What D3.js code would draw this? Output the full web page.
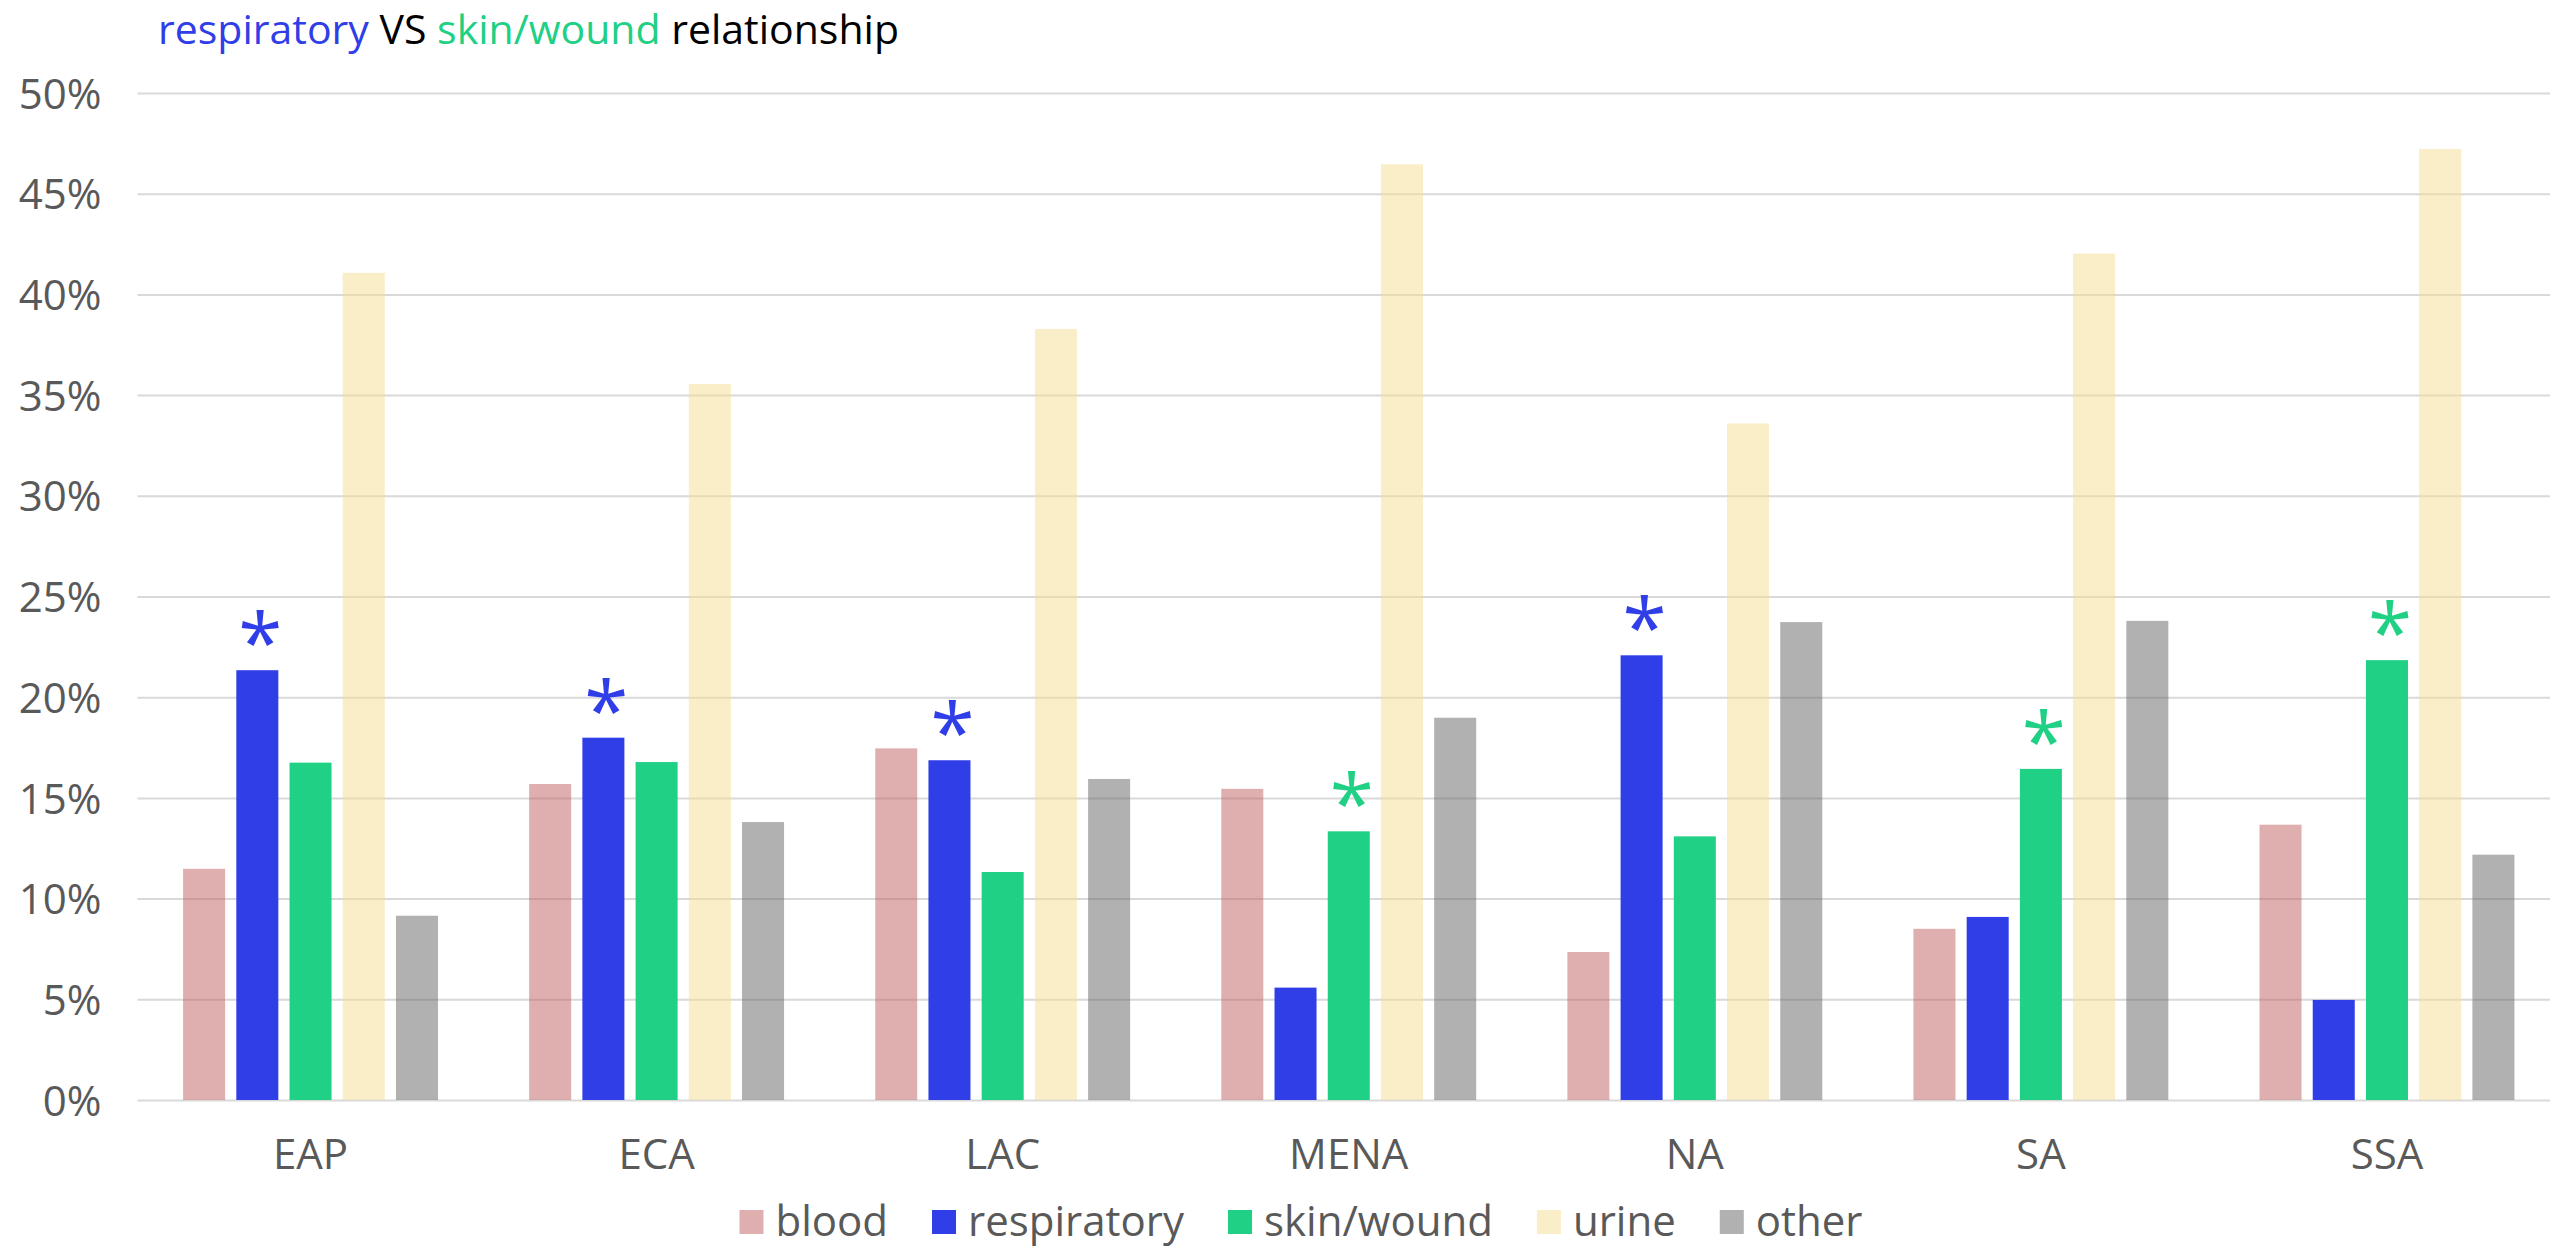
<!DOCTYPE html>
<html>
<head>
<meta charset="utf-8">
<script src="https://cdn.jsdelivr.net/npm/d3@7"></script>
<style>
  body { margin: 0; background: #fff; }
  svg { display: block; }
  text { font-family: "Century Gothic", "Open Sans", sans-serif; }
</style>
</head>
<body>
<svg id="chart" width="2554" height="1252"></svg>
<script>
// Share of isolates by specimen source, per world region
const regions = ["EAP", "ECA", "LAC", "MENA", "NA", "SA", "SSA"];
const sources = ["blood", "respiratory", "skin/wound", "urine", "other"];

const blood       = [0.1148, 0.1569, 0.1746, 0.1545, 0.0735, 0.0850, 0.1367];
const respiratory = [0.2134, 0.1799, 0.1687, 0.0558, 0.2208, 0.0909, 0.0497];
const skinWound   = [0.1675, 0.1678, 0.1132, 0.1334, 0.1309, 0.1644, 0.2184];
const urine       = [0.4107, 0.3555, 0.3828, 0.4646, 0.3359, 0.4203, 0.4722];
const other       = [0.0915, 0.1380, 0.1594, 0.1898, 0.2373, 0.2379, 0.1218];

const yTicks = [0, 0.05, 0.10, 0.15, 0.20, 0.25, 0.30, 0.35, 0.40, 0.45, 0.50];

// Source marked with an asterisk in each region
const flagged = ["respiratory", "respiratory", "respiratory", "skin/wound", "respiratory", "skin/wound", "skin/wound"];

const sourceColors = ["#c06060", "#303ee8", "#20d084", "#f5dd91", "#646464"];
const sourceOpacity = [0.5, 1, 1, 0.5, 0.5];

// ---- layout ----
const plotLeft = 137.5, plotRight = 2560, gridRight = 2550;
const plotTop = 93, plotBottom = 1100;
const labelColor = "#595959";
const fontSize = 42;

const svg = d3.select("#chart");

const valuesBySource = [blood, respiratory, skinWound, urine, other];
const rows = regions.map((region, i) => ({
  region,
  items: sources.map((source, j) => ({ region, source, value: valuesBySource[j][i] }))
}));

const x0 = d3.scaleBand().domain(regions).range([plotLeft, plotRight]);
const x1 = d3.scaleBand().domain(sources)
  .range([40, x0.bandwidth() - 40])
  .paddingInner(0.2105).paddingOuter(0.105);
const y = d3.scaleLinear().domain([0, 0.5]).range([plotBottom, plotTop]);
const color = d3.scaleOrdinal().domain(sources).range(sourceColors);
const opacity = d3.scaleOrdinal().domain(sources).range(sourceOpacity);

// ---- y axis with gridlines ----
const yAxis = d3.axisLeft(y)
  .tickValues(yTicks)
  .tickFormat(d3.format(".0%"))
  .tickSize(-(gridRight - plotLeft))
  .tickPadding(36);

const gy = svg.append("g")
  .attr("transform", `translate(${plotLeft},0)`)
  .call(yAxis);
gy.select(".domain").remove();
gy.selectAll(".tick line").attr("stroke", "#d9d9d9").attr("stroke-width", 2);
gy.selectAll(".tick text")
  .attr("fill", labelColor)
  .attr("font-size", fontSize)
  .attr("dy", "0.36em");

// ---- bars ----
const groups = svg.append("g").selectAll("g")
  .data(rows)
  .join("g")
  .attr("transform", d => `translate(${x0(d.region)},0)`);

groups.selectAll("rect")
  .data(d => d.items)
  .join("rect")
  .attr("x", d => x1(d.source))
  .attr("width", x1.bandwidth())
  .attr("y", d => y(d.value))
  .attr("height", d => plotBottom - y(d.value))
  .attr("fill", d => color(d.source))
  .attr("fill-opacity", d => opacity(d.source));

// ---- asterisks over the flagged bar of each region ----
groups.append("text")
  .text("*")
  .attr("text-anchor", "middle")
  .attr("font-family", "DejaVu Sans, sans-serif")
  .attr("font-size", 80)
  .attr("fill", (d, i) => color(flagged[i]))
  .attr("x", (d, i) => x1(flagged[i]) + x1.bandwidth() / 2 + 3)
  .attr("y", (d, i) => {
    const v = d.items.find(it => it.source === flagged[i]).value;
    return y(v) + 1;
  });

// ---- x axis labels ----
const xAxis = d3.axisBottom(x0).tickSize(0).tickPadding(0);
const gx = svg.append("g")
  .attr("transform", `translate(0,${plotBottom})`)
  .call(xAxis);
gx.select(".domain").remove();
gx.selectAll(".tick text")
  .attr("fill", labelColor)
  .attr("font-size", fontSize)
  .attr("dy", null)
  .attr("y", 69);

// ---- title ----
const title = svg.append("text")
  .attr("x", 158)
  .attr("y", 44)
  .attr("font-size", 41);
[["respiratory", "#303ee8"], [" VS ", "#000000"], ["skin/wound", "#20d084"], [" relationship", "#000000"]]
  .forEach(([t, c]) => title.append("tspan").attr("fill", c).text(t));

// ---- legend ----
const legend = svg.append("g");
const swatch = 24, swatchGap = 12, itemGap = 44, legendBaseline = 1236;
let cursor = 0;
sources.forEach(s => {
  const item = legend.append("g").attr("transform", `translate(${cursor},0)`);
  item.append("rect")
    .attr("x", 0).attr("y", legendBaseline - 26)
    .attr("width", swatch).attr("height", swatch)
    .attr("fill", color(s)).attr("fill-opacity", opacity(s));
  const t = item.append("text")
    .attr("x", swatch + swatchGap).attr("y", legendBaseline)
    .attr("fill", labelColor).attr("font-size", fontSize)
    .text(s);
  cursor += swatch + swatchGap + t.node().getComputedTextLength() + itemGap;
});
const legendWidth = cursor - itemGap;
legend.attr("transform", `translate(${1301 - legendWidth / 2},0)`);
</script>
</body>
</html>
